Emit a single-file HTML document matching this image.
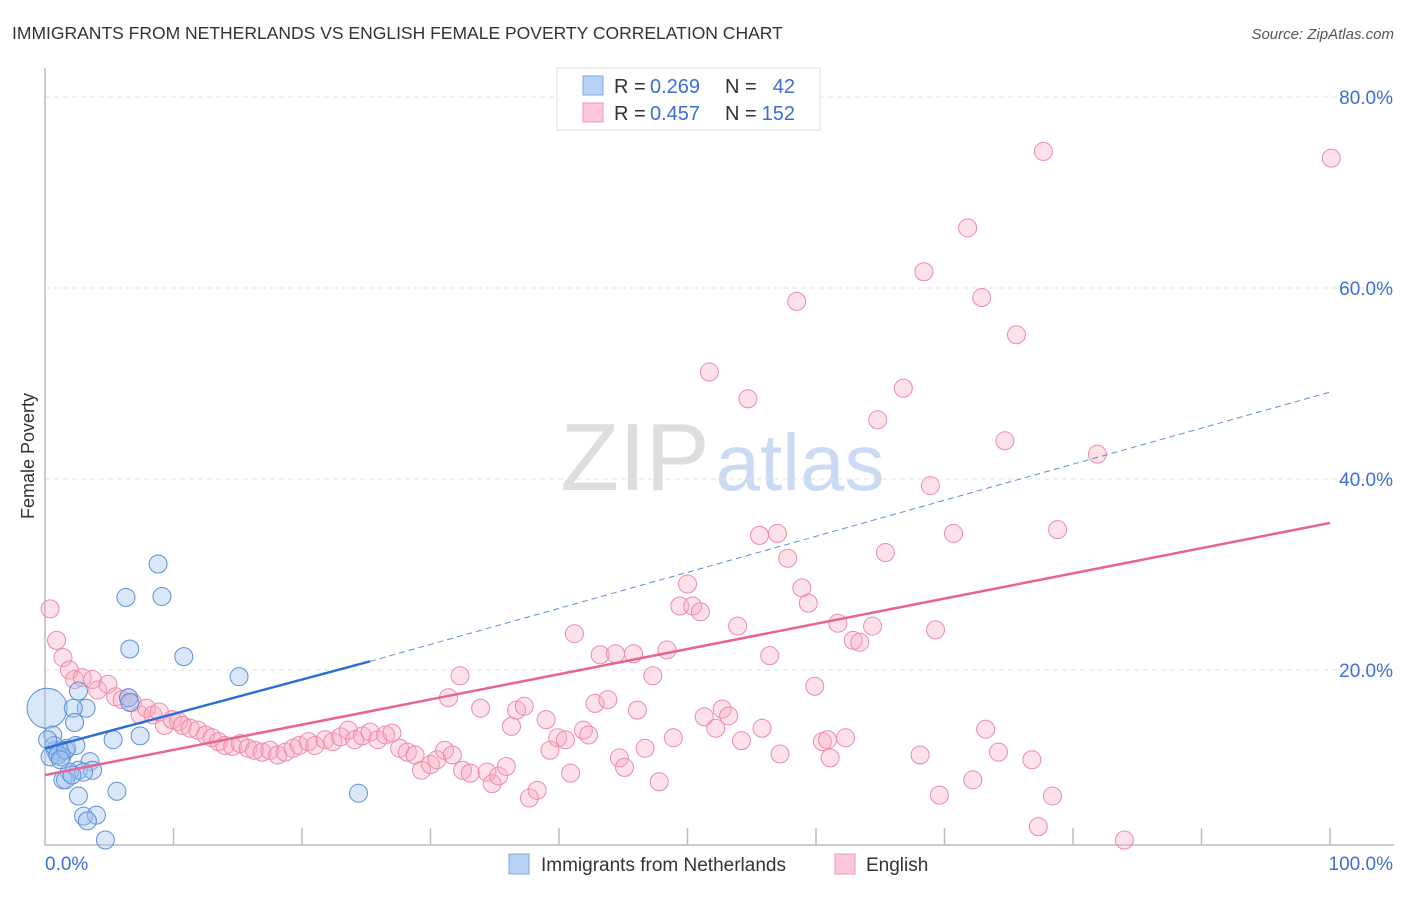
<!DOCTYPE html>
<html><head><meta charset="utf-8"><style>
body{margin:0;background:#fff;font-family:"Liberation Sans",sans-serif;}
svg text{font-family:"Liberation Sans",sans-serif;}
</style></head><body>
<svg id="chart" width="1406" height="892" xmlns="http://www.w3.org/2000/svg">
<text x="12" y="39" font-size="17.5" fill="#333">IMMIGRANTS FROM NETHERLANDS VS ENGLISH FEMALE POVERTY CORRELATION CHART</text>
<text x="1394" y="39" font-size="15" fill="#555" text-anchor="end" font-style="italic">Source: ZipAtlas.com</text>
<text x="34" y="456" font-size="18" fill="#333" text-anchor="middle" transform="rotate(-90 34 456)">Female Poverty</text>
<g><text x="635" y="490" font-size="96" fill="#ddd" text-anchor="middle" font-family="Liberation Serif">ZIP</text><text x="800" y="490" font-size="80" fill="#c9daf2" text-anchor="middle">atlas</text></g>
<g id="grid"></g><g id="marks"></g>
<g>
<rect x="557" y="68" width="263" height="62" fill="#fff" stroke="#ddd"/>
<rect x="583" y="76" width="20" height="19" fill="#b8d2f5" stroke="#7fa6dd"/>
<rect x="583" y="103" width="20" height="19" fill="#fcc8d6" stroke="#ec9ab1"/>
<text x="614" y="93" font-size="20" fill="#333">R =</text>
<text x="650" y="93" font-size="20" fill="#3b6fd6">0.269</text>
<text x="725" y="93" font-size="20" fill="#333">N =</text>
<text x="795" y="93" font-size="20" fill="#3b6fd6" text-anchor="end">42</text>
<text x="614" y="120" font-size="20" fill="#333">R =</text>
<text x="650" y="120" font-size="20" fill="#3b6fd6">0.457</text>
<text x="725" y="120" font-size="20" fill="#333">N =</text>
<text x="795" y="120" font-size="20" fill="#3b6fd6" text-anchor="end">152</text>
</g>
<g>
<rect x="509" y="854" width="20" height="20" fill="#b8d2f5" stroke="#7fa6dd"/>
<text x="541" y="871" font-size="19" fill="#333">Immigrants from Netherlands</text>
<rect x="835" y="854" width="20" height="20" fill="#fcc8d6" stroke="#ec9ab1"/>
<text x="866" y="871" font-size="19" fill="#333">English</text>
</g>
</svg>
<script>
const blueX=[0.16,8.8,6.3,9.1,6.6,10.8,15.1,2.6,6.5,3.2,2.2,2.3,5.3,7.4,0.6,0.8,1.2,1.7,1.3,0.4,3.5,2.6,1.9,1.4,3.7,3.0,2.6,5.6,3.0,4.0,3.3,4.7,24.4,0.7,1.0,1.6,0.2,6.6,1.2,1.6,2.1,2.4];
const blueY=[16.0,31.1,27.6,27.7,22.2,21.4,19.3,17.8,17.1,16.0,16.0,14.5,12.7,13.1,13.2,11.6,11.4,11.8,10.9,10.9,10.4,9.5,9.3,8.5,9.5,9.3,6.8,7.3,4.7,4.8,4.2,2.2,7.1,12.1,11.1,11.6,12.7,16.6,10.6,8.5,9.0,12.1];
const pinkX=[0.4,0.9,1.4,1.9,2.3,2.9,3.7,4.1,4.9,5.5,6.0,6.5,6.8,7.4,7.9,8.4,8.9,9.3,9.9,10.4,10.7,11.3,11.9,12.5,13.0,13.5,14.0,14.6,15.2,15.8,16.3,16.9,17.5,18.1,18.7,19.3,19.8,20.5,21.0,21.8,22.4,23.0,23.6,24.1,24.7,25.3,25.9,26.5,27.0,27.6,28.2,28.8,29.3,30.0,30.5,31.1,31.7,32.3,31.4,32.5,33.1,33.9,34.4,34.8,35.3,35.9,36.3,36.7,37.3,37.7,38.3,39.0,39.3,39.9,40.5,40.9,41.2,41.9,42.3,42.8,43.2,43.8,44.4,44.7,45.1,45.8,46.1,46.7,47.3,47.8,48.4,48.9,49.4,50.0,50.4,51.0,51.3,51.7,52.2,52.7,53.2,53.9,54.2,54.7,55.6,55.8,56.4,57.0,57.2,57.8,58.5,58.9,59.4,59.9,60.5,60.9,61.1,61.7,62.3,62.9,63.4,64.4,64.8,65.4,66.8,68.1,68.4,68.9,69.3,69.6,70.7,71.8,72.2,72.9,73.2,74.2,74.7,75.6,76.8,77.3,77.7,78.4,78.8,81.9,84.0,100.1];
const pinkY=[26.4,23.1,21.3,20.0,19.0,19.2,19.0,17.9,18.5,17.2,16.9,17.1,16.6,15.3,16.0,15.3,15.6,14.2,14.8,14.6,14.2,13.9,13.7,13.2,12.9,12.5,12.1,12.0,12.3,11.8,11.6,11.4,11.6,11.1,11.4,11.8,12.1,12.5,12.1,12.7,12.5,13.0,13.7,12.7,13.1,13.5,12.7,13.2,13.4,11.8,11.4,11.1,9.5,10.1,10.6,11.6,11.1,19.4,17.1,9.5,9.2,16.0,9.3,8.1,8.9,9.9,14.1,15.8,16.2,6.6,7.4,14.8,11.6,12.9,12.7,9.2,23.8,13.7,13.2,16.5,21.6,16.9,21.7,10.8,9.8,21.7,15.8,11.8,19.4,8.3,22.1,12.9,26.7,29.0,26.7,26.1,15.1,51.2,13.9,15.9,15.2,24.6,12.6,48.4,34.1,13.9,21.5,34.3,11.2,31.7,58.6,28.6,27.0,18.3,12.5,12.7,10.8,24.9,12.9,23.1,22.9,24.6,46.2,32.3,49.5,11.1,61.7,39.3,24.2,6.9,34.3,66.3,8.5,59.0,13.8,11.4,44.0,55.1,10.6,3.6,74.3,6.8,34.7,42.6,2.2,73.6];
const yTicks=[20,40,60,80];
const trendBlue=[11.8,0.36];
const trendPink=[9.0,0.264];
const X0=45,X1=1330,Y0=861,PX=(X1-X0)/100,PY=9.55;
const sx=v=>X0+v*PX, sy=v=>Y0-v*PY;
const NS='http://www.w3.org/2000/svg';
function mk(p,t,a){const e=document.createElementNS(NS,t);for(const k in a)e.setAttribute(k,a[k]);p.appendChild(e);return e;}
const grid=document.getElementById('grid'),marks=document.getElementById('marks');
yTicks.forEach(t=>{
 const l=mk(grid,'line',{x1:45,x2:1394,y1:sy(t),y2:sy(t),stroke:'#e2e2e2','stroke-dasharray':'5,4'});
 
 
 const tx=mk(grid,'text',{x:1393,y:sy(t)+7,'font-size':19,fill:'#3b6fd6','text-anchor':'end'});
 tx.textContent=t.toFixed(1)+'%';
 
 
});
const ax=mk(grid,'path',{d:'M45 68V845H1394',stroke:'#bbb',fill:'none','stroke-width':1.5});


for(let i=1;i<=10;i++){const tk=mk(grid,'line',{x1:sx(i*10),x2:sx(i*10),y1:828,y2:845,stroke:'#bbb','stroke-width':1.5});
 
 }
const xl=mk(grid,'text',{x:45,y:870,'font-size':19,fill:'#3b6fd6'});xl.textContent='0.0%';


const xr=mk(grid,'text',{x:1393,y:870,'font-size':19,fill:'#3b6fd6','text-anchor':'end'});xr.textContent='100.0%';


pinkX.forEach((x,i)=>{const c=mk(marks,'circle',{cx:sx(x),cy:sy(pinkY[i]),r:9,fill:'rgba(248,170,192,0.35)',stroke:'#ec8ba7','stroke-width':1});
 
 });
blueX.forEach((x,i)=>{const c=mk(marks,'circle',{cx:sx(x),cy:sy(blueY[i]),r:i===0?20:9,fill:'rgba(160,196,240,0.4)',stroke:'#5b8fd8','stroke-width':1});
 
 });
const bEnd=25.3;
const tb=mk(marks,'line',{x1:sx(0),y1:sy(trendBlue[0]),x2:sx(bEnd),y2:sy(trendBlue[0]+trendBlue[1]*bEnd),stroke:'#2a6fd8','stroke-width':2.5});


const tbd=mk(marks,'line',{x1:sx(bEnd),y1:sy(trendBlue[0]+trendBlue[1]*bEnd),x2:sx(100),y2:sy(trendBlue[0]+trendBlue[1]*100+1.3),stroke:'#5b8fd8','stroke-width':1,'stroke-dasharray':'6,4'});


const tp=mk(marks,'line',{x1:sx(0),y1:sy(trendPink[0]),x2:sx(100),y2:sy(trendPink[0]+trendPink[1]*100),stroke:'#e8648e','stroke-width':2.5});


</script>
</body></html>
